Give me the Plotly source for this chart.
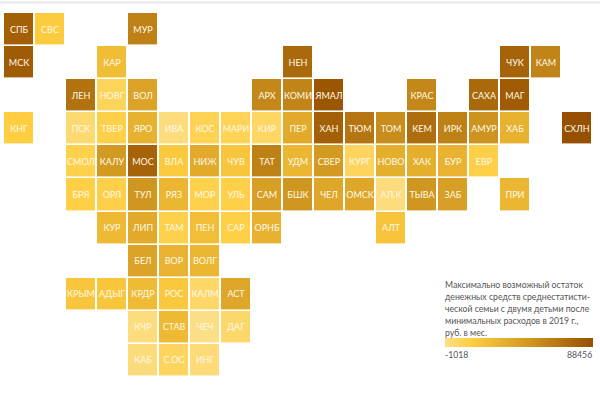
import plotly.graph_objects as go

labels = ["СПБ","СВС","МУР",
          "МСК","КАР","НЕН","ЧУК","КАМ",
          "ЛЕН","НОВГ","ВОЛ","АРХ","КОМИ","ЯМАЛ","КРАС","САХА","МАГ",
          "КНГ","ПСК","ТВЕР","ЯРО","ИВА","КОС","МАРИ","КИР","ПЕР","ХАН","ТЮМ","ТОМ","КЕМ","ИРК","АМУР","ХАБ","СХЛН",
          "СМОЛ","КАЛУ","МОС","ВЛА","НИЖ","ЧУВ","ТАТ","УДМ","СВЕР","КУРГ","НОВО","ХАК","БУР","ЕВР",
          "БРЯ","ОРЛ","ТУЛ","РЯЗ","МОР","УЛЬ","САМ","БШК","ЧЕЛ","ОМСК","АЛ.К","ТЫВА","ЗАБ","ПРИ",
          "КУР","ЛИП","ТАМ","ПЕН","САР","ОРНБ","АЛТ",
          "БЕЛ","ВОР","ВОЛГ",
          "КРЫМ","АДЫГ","КРДР","РОС","КАЛМ","АСТ",
          "КЧР","СТАВ","ЧЕЧ","ДАГ",
          "КАБ","С.ОС","ИНГ"]
cols = [0,1,4,
        0,3,9,16,17,
        2,3,4,8,9,10,13,15,16,
        0,2,3,4,5,6,7,8,9,10,11,12,13,14,15,16,18,
        2,3,4,5,6,7,8,9,10,11,12,13,14,15,
        2,3,4,5,6,7,8,9,10,11,12,13,14,16,
        3,4,5,6,7,8,12,
        4,5,6,
        2,3,4,5,6,7,
        4,5,6,7,
        4,5,6]
rows = [0]*3 + [1]*5 + [2]*9 + [3]*17 + [4]*14 + [5]*14 + [6]*7 + [7]*3 + [8]*6 + [9]*4 + [10]*3
values = [80000,17000,62000,
          82000,26000,75000,78000,60000,
          70000,9000,42000,58000,60000,85000,58000,75000,82000,
          15000,3500,13000,33000,1000,11000,10000,7000,38000,80000,68000,55000,72000,62000,52000,33000,88456,
          12000,48000,78000,18000,38000,20000,62000,30000,48000,8000,35000,35000,32000,13000,
          14000,13000,50000,30000,12000,13000,45000,50000,40000,40000,1000,50000,45000,30000,
          28000,38000,12000,25000,14000,33000,22000,
          42000,32000,30000,
          20000,20000,27000,19000,6000,40000,
          1000,28000,-1018,5000,
          1500,8000,2000]
legend_lines = ["Максимально возможный остаток",
                "денежных средств среднестатисти-",
                "ческой семьи с двумя детьми после",
                "минимальных расходов в 2019 г.,",
                "руб. в мес."]
legend_min = "-1018"
legend_max = "88456"

FONT = "Lato"
colorscale = [[0, "#FBDE85"], [0.18, "#FFCE40"], [0.55, "#D39A22"], [1, "#965000"]]
small = dict(family=FONT, size=8.7, color="#555555")

fig = go.Figure(go.Heatmap(
    x=cols, y=rows, z=values, text=labels,
    texttemplate="%{text}",
    textfont=dict(family=FONT, size=9, color="#FFF9E8"),
    colorscale=colorscale, zmin=-1018, zmax=88456,
    xgap=2, ygap=1.6, hoverongaps=False,
    colorbar=dict(orientation="h", x=441.5/589, xanchor="left", y=30/364, yanchor="bottom",
                  lenmode="pixels", len=148, thickness=9, thicknessmode="pixels",
                  xpad=0, ypad=0, outlinewidth=0, ticks="", showticklabels=False),
))
annotations = [
    dict(text=line, xref="paper", yref="paper", x=441/589, y=(93 - 12 * i) / 364,
         xanchor="left", yanchor="middle", showarrow=False, xshift=-1, font=small)
    for i, line in enumerate(legend_lines)
]
annotations += [
    dict(text=legend_min, xref="paper", yref="paper", x=441/589, y=30.5/364,
         xanchor="left", yanchor="top", showarrow=False, xshift=-1, font=small),
    dict(text=legend_max, xref="paper", yref="paper", x=1, y=30.5/364,
         xanchor="right", yanchor="top", showarrow=False, xshift=2, font=small),
]
fig.update_layout(
    width=600, height=400, margin=dict(l=3, r=8, t=13, b=23),
    paper_bgcolor="white", plot_bgcolor="white",
    xaxis=dict(visible=False, range=[-0.5, 18.5]),
    yaxis=dict(visible=False, range=[10.5, -0.5]),
    font=dict(family=FONT),
    annotations=annotations,
    shapes=[dict(type="line", xref="paper", yref="paper", x0=-0.01, x1=1.02, y0=374.5/364, y1=374.5/364,
                 line=dict(color="#E8E8E8", width=2))],
)
fig.write_html("out.html", config={"displayModeBar": False},
               post_script="document.body.style.margin='0';")
